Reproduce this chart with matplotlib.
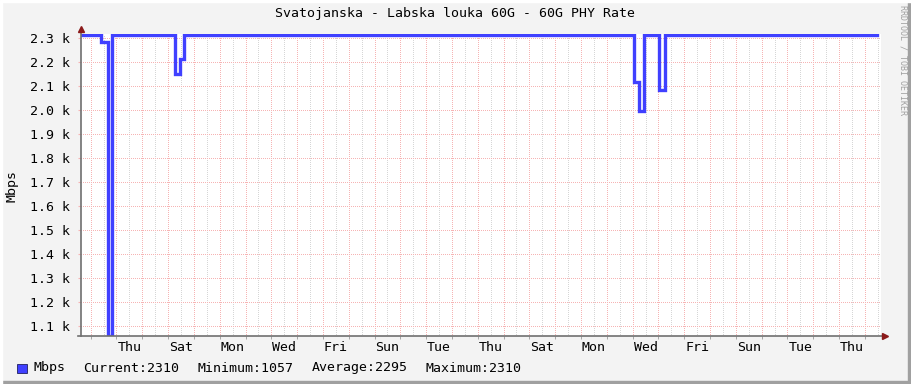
import matplotlib
matplotlib.use("Agg")
import matplotlib.pyplot as plt
from matplotlib.patches import Rectangle
from matplotlib.lines import Line2D

# ---- data (hours since graph start; Mbps) ----
t_hours = [0, 19, 25, 29, 87, 92, 96, 514, 519, 524, 537.5, 543, 740]
mbps = [2310, 2280, 1057, 2310, 2147, 2209, 2310, 2114, 1994, 2310, 2080, 2310, 2310]

day_labels = ["Thu", "Sat", "Mon", "Wed", "Fri", "Sun", "Tue", "Thu",
              "Sat", "Mon", "Wed", "Fri", "Sun", "Tue", "Thu"]
y_ticks = [1100, 1200, 1300, 1400, 1500, 1600, 1700, 1800, 1900, 2000, 2100, 2200, 2300]
y_tick_labels = ["1.1 k", "1.2 k", "1.3 k", "1.4 k", "1.5 k", "1.6 k", "1.7 k",
                 "1.8 k", "1.9 k", "2.0 k", "2.1 k", "2.2 k", "2.3 k"]
title = "Svatojanska - Labska louka 60G - 60G PHY Rate"
legend_items = ["Current:2310", "Minimum:1057", "Average:2295", "Maximum:2310"]
series_name = "Mbps"

# ---- layout ----
W, H = 911, 384
FONT = "DejaVu Sans Mono"
FS = 9.5
fig = plt.figure(figsize=(W / 100, H / 100), dpi=100, facecolor="#f3f3f3")

def fx(px):
    return px / W

def fy(py):
    return 1 - py / H

left_px, right_px, top_px, bot_px = 81, 881, 34, 335.5
ax = fig.add_axes([fx(left_px), fy(bot_px), (right_px - left_px) / W, (bot_px - top_px) / H])
ax.set_facecolor("white")

total_h = 744
ax.set_xlim(0, total_h)
ax.set_ylim(1060.5, 2314.6)

red = "#f6b4b4"
grey = "#d6d6d6"
dots = (0, (1, 2))
# vertical grid: midnights (red) and noons (grey)
first_midnight = 9
for k in range(31):
    m = first_midnight + 24 * k
    if m < total_h:
        ax.axvline(m, color=red, lw=0.72, ls=dots, zorder=1, antialiased=False)
    n = m + 12
    if n < total_h:
        ax.axvline(n, color=grey, lw=0.72, ls=dots, zorder=1, antialiased=False)
for yv in y_ticks:
    ax.axhline(yv, color=red, lw=0.72, ls=dots, zorder=1, antialiased=False)

ax.plot(t_hours, mbps, drawstyle="steps-post", color="#4040ff", lw=2.4,
        solid_joinstyle="miter", zorder=3)

# ticks
label_pos = [first_midnight + 24 + 12 + 48 * k for k in range(len(day_labels))]
ax.set_xticks(label_pos)
ax.set_xticklabels(day_labels, fontfamily=FONT, fontsize=FS)
ax.tick_params(axis="x", length=0, pad=4, colors="black")
ax.set_xticks([first_midnight + 24 * k for k in range(31)], minor=True)
ax.tick_params(axis="x", which="minor", length=2, color="#999999")
ax.set_yticks(y_ticks)
ax.set_yticklabels(y_tick_labels, fontfamily=FONT, fontsize=FS)
ax.tick_params(axis="y", length=2, color=red, pad=6)
for lab in ax.get_xticklabels() + ax.get_yticklabels():
    lab.set_color("black")

for s in ax.spines.values():
    s.set_visible(False)

# axis lines + arrows
axc = "#707070"
ax.add_line(Line2D([0, 0], [0, 1.01], transform=ax.transAxes, color=axc, lw=1.2, clip_on=False, zorder=4))
ax.add_line(Line2D([-0.004, 1.004], [0, 0], transform=ax.transAxes, color=axc, lw=1.2, clip_on=False, zorder=4))
ax.plot([0], [1.015], marker="^", ms=5, color="#8b1a1a", transform=ax.transAxes, clip_on=False, zorder=5)
ax.plot([1.005], [0], marker=">", ms=5, color="#8b1a1a", transform=ax.transAxes, clip_on=False, zorder=5)

# texts
fig.text(fx(455), fy(14), title, ha="center", va="center", fontfamily=FONT, fontsize=FS)
fig.text(fx(12), fy(186), series_name, ha="center", va="center", rotation=90, fontfamily=FONT, fontsize=FS)
fig.text(fx(903), fy(5), "RRDTOOL / TOBI OETIKER", ha="center", va="top", rotation=270,
         fontfamily=FONT, fontsize=6, color="#a0a0a0")

# legend
fig.patches.append(Rectangle((fx(17), fy(373)), 10 / W, 9 / H, transform=fig.transFigure,
                             facecolor="#4040ff", edgecolor="#202060", lw=0.6))
fig.text(fx(34), fy(368), series_name, ha="left", va="center", fontfamily=FONT, fontsize=FS)
for xpos, txt in zip([83, 198, 312, 426], legend_items):
    fig.text(fx(xpos), fy(368), txt, ha="left", va="center", fontfamily=FONT, fontsize=FS)

# frame
fig.patches.append(Rectangle((fx(908), 0), 3 / W, 1, transform=fig.transFigure, color="#a0a0a0"))
fig.patches.append(Rectangle((0, 0), 1, 3 / H, transform=fig.transFigure, color="#a0a0a0"))
fig.patches.append(Rectangle((0, 0), 1.5 / W, 1, transform=fig.transFigure, color="#ffffff"))
fig.patches.append(Rectangle((0, 1 - 1.5 / H), 1, 1.5 / H, transform=fig.transFigure, color="#ffffff"))

fig.savefig("out.png", dpi=100, facecolor=fig.get_facecolor())
